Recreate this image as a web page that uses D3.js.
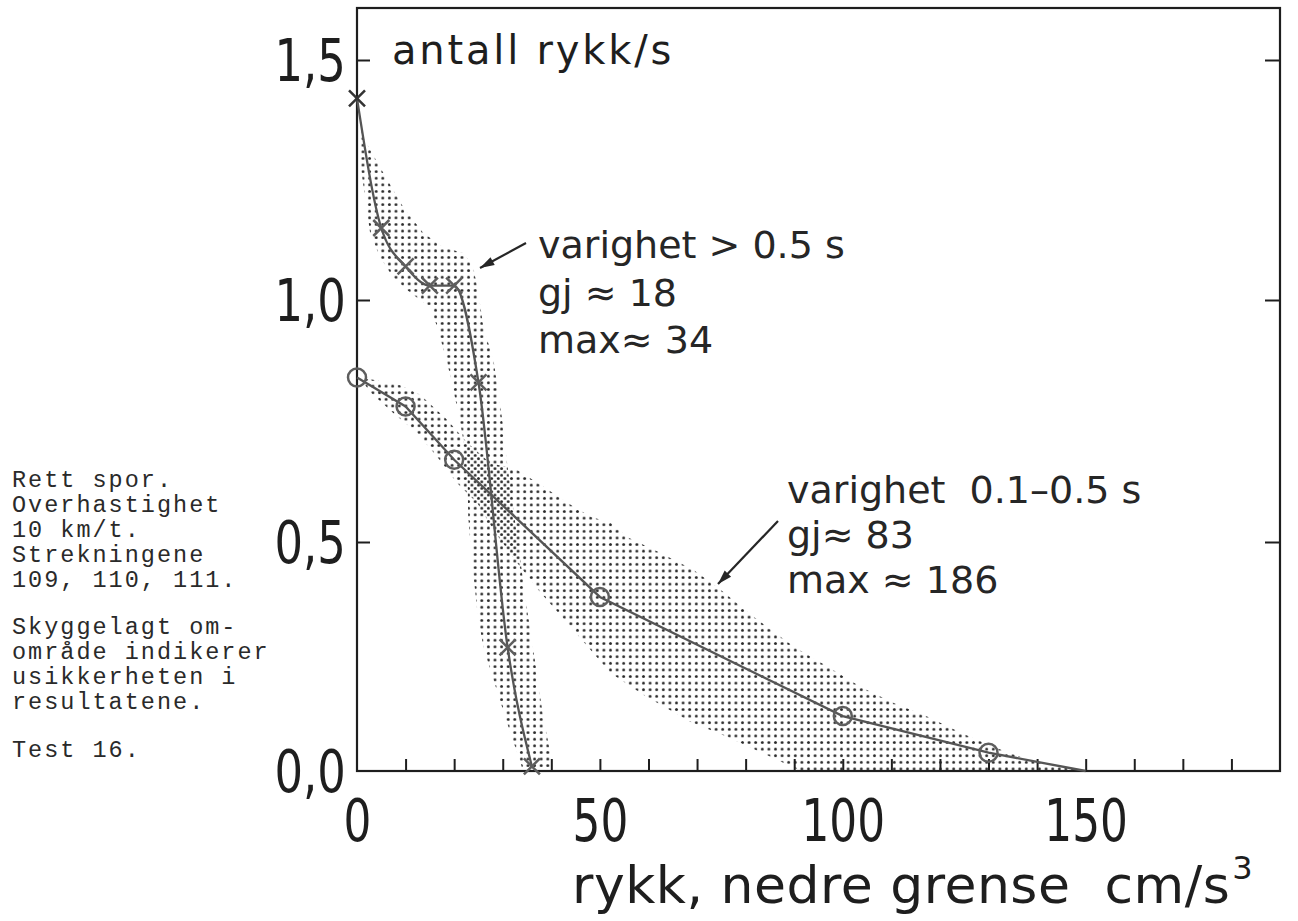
<!DOCTYPE html>
<html>
<head>
<meta charset="utf-8">
<script src="https://cdn.jsdelivr.net/npm/d3@7"></script>
<style>
  html, body { margin: 0; padding: 0; background: #fff; }
  svg { display: block; }
  text { white-space: pre; }
</style>
</head>
<body>
<svg id="chart" width="1298" height="921"></svg>
<script>
// ---------------- DATA ----------------
// Series "varighet > 0.5 s" (crosses)
const longX = [0, 5, 10, 15, 20, 25, 31, 36];
const longY = [1.42, 1.15, 1.07, 1.03, 1.03, 0.83, 0.27, 0.01];
// Series "varighet 0.1-0.5 s" (circles); last point is the curve end (no marker)
const shortX = [0, 10, 20, 50, 100, 130, 150];
const shortY = [0.84, 0.78, 0.67, 0.38, 0.12, 0.04, 0.0];

// Uncertainty band for "> 0.5 s" : outer (upper/right) edge and inner (lower/left) edge
const longBandUpper = [[0,1.40],[1.2,1.34],[5.4,1.265],[9.5,1.194],[13.6,1.14],[17.7,1.11],[21.9,1.098],
  [23.9,1.069],[25.0,1.015],[26.0,0.944],[28.1,0.876],[29.1,0.808],[29.9,0.752],[30.9,0.663],
  [32.3,0.56],[33.6,0.461],[35.2,0.34],[36.7,0.236],[38.2,0.127],[39.8,0.039],[40.4,0.0]];
const longBandLower = [[0,1.40],[0.2,1.375],[0.6,1.29],[1.7,1.21],[2.7,1.14],[4.7,1.09],[7.4,1.048],
  [10.3,1.021],[13.0,1.0],[15.1,0.986],[16.5,0.944],[18.6,0.87],[20.6,0.779],[21.9,0.711],[22.7,0.663],
  [22.9,0.552],[23.7,0.454],[24.8,0.345],[26.0,0.271],[28.1,0.199],[30.9,0.105],[33.0,0.039],[34.2,0.0]];

// Uncertainty band for "0.1-0.5 s"
const shortBandUpper = [[0.6,0.84],[3.3,0.835],[8.9,0.824],[13.0,0.804],[18.6,0.752],[22.7,0.705],[27.4,0.663],
  [33.0,0.649],[38.4,0.614],[43.3,0.581],[48.1,0.552],[52.2,0.54],[55.7,0.51],[62.5,0.476],[69.3,0.439],
  [74.9,0.395],[81.7,0.336],[90.0,0.271],[97.0,0.227],[103.8,0.183],[110.6,0.148],[117.6,0.118],
  [124.4,0.083],[131.2,0.052],[138.2,0.024],[143.6,0.011],[149.8,0.0]];
const shortBandLower = [[0.6,0.84],[2.7,0.81],[7.4,0.767],[12.4,0.725],[16.5,0.676],[20.6,0.622],[24.8,0.58],
  [28.1,0.525],[33.0,0.454],[37.8,0.389],[43.3,0.323],[48.1,0.264],[52.2,0.214],[59.0,0.166],
  [68.7,0.107],[76.3,0.074],[83.1,0.041],[91.4,0.0]];

// Axis ticks / labels
const xMinorTicks = d3.range(10, 190, 10);
const xTickValues = [0, 50, 100, 150];
const xTickLabels = ["0", "50", "100", "150"];
const yTickValues = [0, 0.5, 1.0, 1.5];
const yTickLabels = ["0,0", "0,5", "1,0", "1,5"];

// Texts
const yTitle = "antall rykk/s";
const xTitle = "rykk, nedre grense  cm/s";
const xTitleSup = "3";
const noteLong = ["varighet > 0.5 s", "gj ≈ 18", "max≈ 34"];
const noteShort = ["varighet  0.1–0.5 s", "gj≈ 83", "max ≈ 186"];
const sideNote1 = ["Rett spor.", "Overhastighet", "10 km/t.", "Strekningene", "109, 110, 111."];
const sideNote2 = ["Skyggelagt om-", "område indikerer", "usikkerheten i", "resultatene."];
const sideNote3 = ["Test 16."];

// ---------------- LAYOUT ----------------
const svg = d3.select("#chart");
const mLeft = 357, mRight = 1280, mTop = 8, mBottom = 771;

const x = d3.scaleLinear().domain([0, 190]).range([mLeft, mRight]);
// hand-drawn axis: tick spacing not perfectly uniform -> polylinear scale
const y = d3.scaleLinear().domain([0, 0.5, 1.0, 1.5]).range([mBottom, 542, 300, 60]);

const ink = "#1e1e1e";
const gray = "#555";
const numFont = "'Liberation Sans Narrow', 'DejaVu Sans Condensed', sans-serif";

// dot patterns (halftone shading)
const defs = svg.append("defs");
function dotPattern(id, off) {
  const p = defs.append("pattern").attr("id", id)
    .attr("patternUnits", "userSpaceOnUse")
    .attr("width", 6.6).attr("height", 6.6)
    .attr("x", off).attr("y", off);
  p.append("circle").attr("cx", 3.3).attr("cy", 3.3).attr("r", 1.45).attr("fill", "#2a2a2a");
}
dotPattern("dotsA", 0);
dotPattern("dotsB", 3.3);

const bandLine = d3.line().x(d => x(d[0])).y(d => y(d[1])).curve(d3.curveLinearClosed);

function bandPolygon(upper, lower) {
  return upper.concat(lower.slice().reverse());
}

svg.append("path")
  .attr("d", bandLine(bandPolygon(shortBandUpper, shortBandLower)))
  .attr("fill", "url(#dotsA)");
svg.append("path")
  .attr("d", bandLine(bandPolygon(longBandUpper, longBandLower)))
  .attr("fill", "url(#dotsB)");

// ---------------- FRAME & AXES ----------------
svg.append("rect")
  .attr("x", mLeft).attr("y", mTop)
  .attr("width", mRight - mLeft).attr("height", mBottom - mTop)
  .attr("fill", "none").attr("stroke", ink).attr("stroke-width", 2.2);

// bottom minor ticks (inward)
const xMinorAxis = d3.axisBottom(x).tickValues(xMinorTicks).tickSize(-12).tickFormat("");
const gxm = svg.append("g").attr("transform", `translate(0,${mBottom})`).call(xMinorAxis);
gxm.select(".domain").remove();
gxm.selectAll("line").attr("stroke", ink).attr("stroke-width", 2);

// bottom labels
const xLabelAxis = d3.axisBottom(x).tickValues(xTickValues).tickSize(0).tickPadding(29)
  .tickFormat((d, i) => xTickLabels[i]);
const gxl = svg.append("g").attr("transform", `translate(0,${mBottom})`).call(xLabelAxis);
gxl.select(".domain").remove();
gxl.selectAll("text")
  .attr("font-family", numFont)
  .attr("font-size", 58).attr("fill", ink)
  .attr("transform", "scale(0.84,1)");

// left axis
const yAxis = d3.axisLeft(y).tickValues(yTickValues).tickSize(-13).tickPadding(13)
  .tickFormat((d, i) => yTickLabels[i]);
const gy = svg.append("g").attr("transform", `translate(${mLeft},0)`).call(yAxis);
gy.select(".domain").remove();
gy.selectAll("line").attr("stroke", ink).attr("stroke-width", 2);
gy.selectAll(".tick").filter(d => d === 0).select("line").remove();
gy.selectAll("text")
  .attr("font-family", numFont)
  .attr("font-size", 58).attr("fill", ink).attr("dy", "0.36em")
  .attr("transform", "scale(0.86,1)");

// right axis
const yAxisR = d3.axisRight(y).tickValues(yTickValues.filter(v => v > 0)).tickSize(-15).tickFormat("");
const gyr = svg.append("g").attr("transform", `translate(${mRight},0)`).call(yAxisR);
gyr.select(".domain").remove();
gyr.selectAll("line").attr("stroke", ink).attr("stroke-width", 2);

// ---------------- SERIES ----------------
const smooth = d3.line().x(d => x(d[0])).y(d => y(d[1])).curve(d3.curveMonotoneX);
const straight = d3.line().x(d => x(d[0])).y(d => y(d[1]));

const longPts = longX.map((v, i) => [v, longY[i]]);
const shortPts = shortX.map((v, i) => [v, shortY[i]]);

svg.append("path").attr("d", straight(shortPts))
  .attr("fill", "none").attr("stroke", gray).attr("stroke-width", 2.3);
svg.append("path").attr("d", smooth(longPts))
  .attr("fill", "none").attr("stroke", gray).attr("stroke-width", 2.3);

// circle markers (no marker at curve end)
svg.append("g").selectAll("circle")
  .data(shortPts.filter(d => d[1] > 0))
  .join("circle")
  .attr("cx", d => x(d[0])).attr("cy", d => y(d[1])).attr("r", 9)
  .attr("fill", "none").attr("stroke", "#5e5e5e").attr("stroke-width", 2.5);

// cross markers
const cs = 8;
svg.append("g").selectAll("path")
  .data(longPts)
  .join("path")
  .attr("d", d => {
    const cx = x(d[0]), cy = y(d[1]);
    return `M${cx - cs},${cy - cs}L${cx + cs},${cy + cs}M${cx - cs},${cy + cs}L${cx + cs},${cy - cs}`;
  })
  .attr("fill", "none")
  .attr("stroke", (d, i) => i === 0 ? "#333" : "#5e5e5e")
  .attr("stroke-width", 2.5);

// ---------------- TEXT ----------------
const sans = "'DejaVu Sans', sans-serif";

svg.append("text").attr("x", 392).attr("y", 64)
  .attr("font-family", sans).attr("font-size", 40).attr("letter-spacing", 2.8)
  .attr("fill", ink).text(yTitle);

const xt = svg.append("text").attr("x", 572).attr("y", 903)
  .attr("font-family", sans).attr("font-size", 52).attr("letter-spacing", 0.5)
  .attr("fill", ink);
xt.append("tspan").text(xTitle);
xt.append("tspan").attr("font-size", 32).attr("dy", -24).attr("dx", 2).text(xTitleSup);

function block(lines, x0, y0, dy) {
  svg.append("g").selectAll("text").data(lines).join("text")
    .attr("x", x0).attr("y", (d, i) => y0 + i * dy)
    .attr("font-family", sans).attr("font-size", 38).attr("fill", "#262626")
    .text(d => d);
}
block(noteLong, 538, 258, 47.5);
block(noteShort, 787, 503, 45);

// arrows
function arrow(x1, y1, x2, y2) {
  svg.append("line").attr("x1", x1).attr("y1", y1).attr("x2", x2).attr("y2", y2)
    .attr("stroke", "#262626").attr("stroke-width", 2.2);
  const a = Math.atan2(y2 - y1, x2 - x1), L = 15, w = 0.3;
  const p1 = [x2 - L * Math.cos(a - w), y2 - L * Math.sin(a - w)];
  const p2 = [x2 - L * Math.cos(a + w), y2 - L * Math.sin(a + w)];
  svg.append("path").attr("d", `M${x2},${y2}L${p1[0]},${p1[1]}L${p2[0]},${p2[1]}Z`)
    .attr("fill", "#262626");
}
arrow(526, 243, 480, 268);
arrow(778, 521, 718, 584);

// side notes (typewriter)
function note(lines, y0) {
  svg.append("g").selectAll("text").data(lines).join("text")
    .attr("x", 12).attr("y", (d, i) => y0 + i * 25)
    .attr("font-family", "'Liberation Mono', 'DejaVu Sans Mono', monospace")
    .attr("font-size", 23.5).attr("letter-spacing", 2.0).attr("fill", "#2a2a2a")
    .text(d => d);
}
note(sideNote1, 487);
note(sideNote2, 634);
note(sideNote3, 757);
</script>
</body>
</html>
